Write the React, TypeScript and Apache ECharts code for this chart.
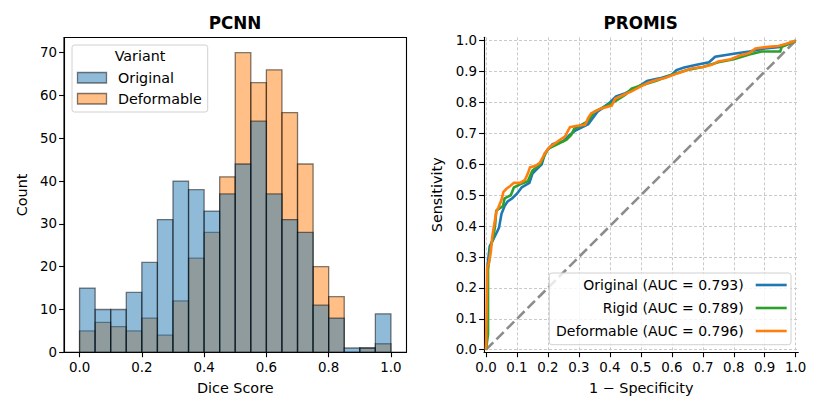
import React, { useEffect, useRef } from "react";
import * as echarts from "echarts";

const FONT = "'DejaVu Sans', sans-serif";

const binStarts = [0, 0.05, 0.1, 0.15, 0.2, 0.25, 0.3, 0.35, 0.4, 0.45, 0.5, 0.55, 0.6, 0.65, 0.7, 0.75, 0.8, 0.85, 0.9, 0.95];
const binWidth = 0.05;
const histOriginal = [15, 10, 10, 14, 21, 31, 40, 38, 33, 37, 44, 54, 37, 31, 28, 11, 8, 1, 1, 9];
const histDeformable = [5, 7, 6, 5, 8, 4, 12, 22, 28, 41, 70, 63, 66, 56, 44, 20, 13, 0, 1, 2];

const histXTicks = [0, 0.2, 0.4, 0.6, 0.8, 1];
const histYTicks = [0, 10, 20, 30, 40, 50, 60, 70];
const rocTicks = [0, 0.1, 0.2, 0.3, 0.4, 0.5, 0.6, 0.7, 0.8, 0.9, 1];

const rocOriginal = [
  [0, 0], [0.004, 0.1], [0.004, 0.26], [0.008, 0.3], [0.012, 0.335], [0.025, 0.36], [0.035, 0.38], [0.042, 0.395], [0.05, 0.44], [0.06, 0.465],
  [0.07, 0.48], [0.085, 0.49], [0.1, 0.505], [0.115, 0.525], [0.14, 0.54], [0.15, 0.57], [0.165, 0.585], [0.18, 0.6], [0.19, 0.635], [0.215, 0.665],
  [0.25, 0.675], [0.27, 0.695], [0.29, 0.71], [0.33, 0.73], [0.345, 0.75], [0.36, 0.77], [0.38, 0.785], [0.4, 0.8], [0.42, 0.82], [0.45, 0.83],
  [0.49, 0.85], [0.52, 0.87], [0.56, 0.878], [0.6, 0.89], [0.615, 0.905], [0.64, 0.913], [0.68, 0.922], [0.72, 0.93], [0.74, 0.948], [0.8, 0.958],
  [0.85, 0.965], [0.9, 0.975], [0.95, 0.98], [0.975, 0.99], [1, 1],
];
const rocRigid = [
  [0, 0], [0.0065, 0.05], [0.0065, 0.26], [0.012, 0.3], [0.014, 0.33], [0.025, 0.37], [0.03, 0.41], [0.033, 0.45], [0.055, 0.465], [0.06, 0.49],
  [0.08, 0.5], [0.09, 0.525], [0.11, 0.535], [0.135, 0.545], [0.15, 0.58], [0.175, 0.6], [0.19, 0.63], [0.2, 0.65], [0.23, 0.665], [0.26, 0.68],
  [0.275, 0.695], [0.285, 0.715], [0.33, 0.74], [0.35, 0.77], [0.38, 0.785], [0.41, 0.8], [0.45, 0.825], [0.47, 0.845], [0.5, 0.855], [0.55, 0.87],
  [0.6, 0.89], [0.65, 0.905], [0.7, 0.915], [0.75, 0.93], [0.8, 0.94], [0.85, 0.955], [0.89, 0.965], [0.95, 0.965], [0.955, 0.98], [0.98, 0.99], [1, 1],
];
const rocDeformable = [
  [0, 0], [0.004, 0.27], [0.008, 0.275], [0.016, 0.32], [0.02, 0.365], [0.024, 0.39], [0.029, 0.42], [0.034, 0.45], [0.04, 0.46], [0.05, 0.485],
  [0.056, 0.51], [0.065, 0.52], [0.078, 0.53], [0.09, 0.54], [0.11, 0.54], [0.126, 0.55], [0.135, 0.57], [0.142, 0.59], [0.16, 0.595], [0.174, 0.605],
  [0.182, 0.62], [0.19, 0.635], [0.205, 0.655], [0.223, 0.668], [0.24, 0.68], [0.255, 0.69], [0.271, 0.72], [0.29, 0.724], [0.32, 0.728], [0.33, 0.75],
  [0.34, 0.765], [0.37, 0.78], [0.406, 0.79], [0.417, 0.812], [0.445, 0.825], [0.47, 0.836], [0.5, 0.852], [0.524, 0.864], [0.55, 0.873], [0.58, 0.88],
  [0.62, 0.895], [0.664, 0.91], [0.7, 0.915], [0.729, 0.922], [0.75, 0.933], [0.79, 0.94], [0.82, 0.952], [0.85, 0.96], [0.87, 0.975], [0.91, 0.98],
  [0.944, 0.983], [0.97, 0.99], [1, 1],
];
const chance = [[0, 0], [1, 1]];

const BLUE = "#1f77b4";
const GREEN = "#2ca02c";
const ORANGE = "#ff7f0e";
const rocLegend = [
  { label: "Original (AUC = 0.793)", color: BLUE },
  { label: "Rigid (AUC = 0.789)", color: GREEN },
  { label: "Deformable (AUC = 0.796)", color: ORANGE },
];

function histSeries(name: string, values: number[], fill: string) {
  return {
    type: "custom",
    name,
    xAxisIndex: 0,
    yAxisIndex: 0,
    clip: true,
    data: values.map((v, i) => [binStarts[i], binStarts[i] + binWidth, v]),
    encode: { x: [0, 1], y: 2 },
    renderItem: (_p: any, api: any) => {
      const a = api.coord([api.value(0), api.value(2)]);
      const b = api.coord([api.value(1), 0]);
      return {
        type: "rect",
        shape: { x: a[0], y: a[1], width: b[0] - a[0], height: b[1] - a[1] },
        style: { fill, stroke: "rgba(0,0,0,0.5)", lineWidth: 1.3 },
      };
    },
  };
}

function rocSeries(data: number[][], color: string) {
  return {
    type: "line",
    xAxisIndex: 1,
    yAxisIndex: 1,
    data,
    showSymbol: false,
    symbol: "none",
    clip: false,
    lineStyle: { color, width: 2.6, join: "miter" },
  };
}

const axisText = { fontFamily: FONT, fontSize: 13.4, color: "#000" };
const nameText = { fontFamily: FONT, fontSize: 14.4, color: "#000" };
const tick = (customValues: number[]) => ({ show: true, length: 4.9, customValues, lineStyle: { color: "#000", width: 1.1 } });
const label = (customValues: number[], digits: number, margin: number) => ({
  ...axisText,
  customValues,
  margin,
  hideOverlap: false,
  showMinLabel: true,
  showMaxLabel: true,
  formatter: (v: number) => v.toFixed(digits),
});
const spine = { show: true, onZero: false, lineStyle: { color: "#000", width: 1.1 } };
const dashed = { show: true, lineStyle: { color: "#cacaca", width: 1, type: [3, 2] as any } };

function legendText(x: number, y: number, text: string, align: string, size = 14.3) {
  return {
    type: "text",
    x,
    y,
    z: 102,
    style: { text, fill: "#000", font: `${size}px ${FONT}`, align, verticalAlign: "middle" },
  };
}

const titleStyle = { fontFamily: FONT, fontSize: 16.8, fontWeight: "bold", color: "#000" };

const option: any = {
  animation: false,
  backgroundColor: "#fff",
  title: [
    { text: "PCNN", left: 230, top: 9, textAlign: "center", textStyle: titleStyle },
    { text: "PROMIS", left: 635.7, top: 9, textAlign: "center", textStyle: titleStyle },
  ],
  grid: [
    { left: 64, top: 37.5, width: 342.5, height: 314.8, show: true, borderColor: "#000", borderWidth: 1.1, backgroundColor: "transparent" },
    { left: 484, top: 37.3, width: 314.3, height: 315 },
  ],
  xAxis: [
    {
      type: "value", gridIndex: 0, min: -0.05, max: 1.05,
      name: "Dice Score", nameLocation: "middle", nameGap: 29, nameTextStyle: nameText,
      axisLine: spine, axisTick: tick(histXTicks), axisLabel: label(histXTicks, 1, 9), splitLine: { show: false },
    },
    {
      type: "value", gridIndex: 1, min: -0.0065, max: 1.0084,
      name: "1 \u2212 Specificity", nameLocation: "middle", nameGap: 29, nameTextStyle: nameText,
      axisLine: spine, axisTick: tick(rocTicks), axisLabel: label(rocTicks, 1, 9), splitLine: dashed,
    },
  ],
  yAxis: [
    {
      type: "value", gridIndex: 0, min: 0, max: 73.55,
      name: "Count", nameLocation: "middle", nameGap: 35, nameTextStyle: nameText,
      axisLine: spine, axisTick: tick(histYTicks), axisLabel: label(histYTicks, 0, 7), splitLine: { show: false },
    },
    {
      type: "value", gridIndex: 1, min: -0.0084, max: 1.011,
      name: "Sensitivity", nameLocation: "middle", nameGap: 40, nameTextStyle: nameText,
      axisLine: spine, axisTick: tick(rocTicks), axisLabel: label(rocTicks, 1, 7), splitLine: dashed,
    },
  ],
  series: [
    histSeries("Deformable", histDeformable, "rgba(255,127,14,0.5)"),
    histSeries("Original", histOriginal, "rgba(31,119,180,0.5)"),
    {
      type: "line", xAxisIndex: 1, yAxisIndex: 1, data: chance, showSymbol: false, symbol: "none",
      lineStyle: { color: "#8c8c8c", width: 2.6, type: [10.3, 4.4] },
    },
    rocSeries(rocOriginal, BLUE),
    rocSeries(rocRigid, GREEN),
    rocSeries(rocDeformable, ORANGE),
  ],
  graphic: [
    { type: "rect", z: 100, shape: { x: 72, y: 45, width: 135.7, height: 67, r: 2.5 }, style: { fill: "rgba(255,255,255,0.8)", stroke: "#d0d0d0", lineWidth: 1 } },
    legendText(140, 56, "Variant", "center"),
    { type: "rect", z: 101, shape: { x: 77.5, y: 72.5, width: 29, height: 10.5 }, style: { fill: "rgba(31,119,180,0.5)", stroke: "rgba(0,0,0,0.5)", lineWidth: 1.3 } },
    legendText(118, 77.5, "Original", "left"),
    { type: "rect", z: 101, shape: { x: 77.5, y: 93.5, width: 29, height: 10.5 }, style: { fill: "rgba(255,127,14,0.5)", stroke: "rgba(0,0,0,0.5)", lineWidth: 1.3 } },
    legendText(118, 99, "Deformable", "left"),
    { type: "rect", z: 100, shape: { x: 549.3, y: 273, width: 241.7, height: 71.7, r: 2.5 }, style: { fill: "rgba(255,255,255,0.8)", stroke: "#d0d0d0", lineWidth: 1 } },
    ...rocLegend.flatMap((item, i) => {
      const y = 285 + i * 23;
      return [
        legendText(743.7, y, item.label, "right", 14),
        { type: "line", z: 101, shape: { x1: 755.7, y1: y, x2: 786.7, y2: y }, style: { stroke: item.color, lineWidth: 2.6 } },
      ];
    }),
  ],
};

export default function App() {
  const ref = useRef<HTMLDivElement>(null);
  useEffect(() => {
    const chart = echarts.init(ref.current!, undefined, { renderer: "svg" });
    chart.setOption(option);
    return () => chart.dispose();
  }, []);
  return <div ref={ref} style={{ position: "absolute", left: 0, top: 0, width: 830, height: 415 }} />;
}
